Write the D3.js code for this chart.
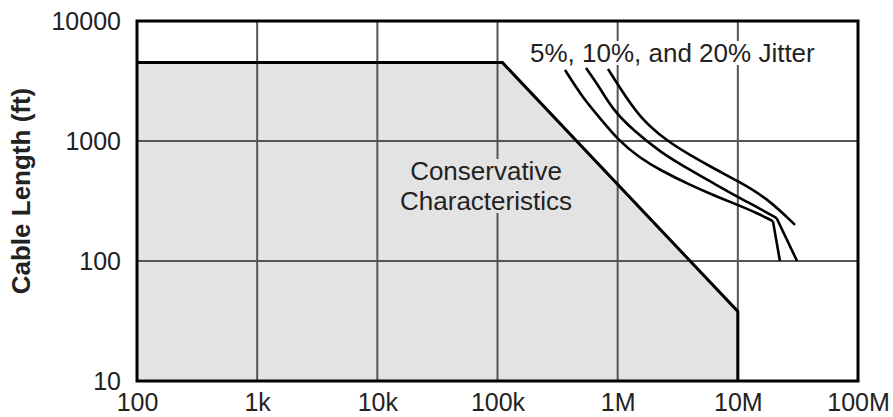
<!DOCTYPE html>
<html>
<head>
<meta charset="utf-8">
<script src="https://d3js.org/d3.v7.min.js"></script>
<style>
  body { margin: 0; background: #fff; }
  text { font-family: "Liberation Sans", Arial, sans-serif; fill: #222; }
</style>
</head>
<body>
<div id="chart"></div>
<script>
// axis ticks
var xTicks = [1e2, 1e3, 1e4, 1e5, 1e6, 1e7, 1e8];
var xTickLabels = ["100", "1k", "10k", "100k", "1M", "10M", "100M"];
var yTicks = [10, 100, 1000, 10000];
var yTickLabels = ["10", "100", "1000", "10000"];

// shaded "conservative" region outline (data rate, cable length)
var conservative = [[1e2, 4500], [1.1e5, 4500], [1e7, 38], [1e7, 10]];

// jitter curves, smooth part then straight drop
var jitter5 = [[3.65e5, 3900], [5.14e5, 2280], [7.12e5, 1555], [1.006e6, 1020], [1.53e6, 722],
               [2.25e6, 573], [4.0e6, 430], [6.21e6, 355], [1.0e7, 293], [1.44e7, 251], [1.96e7, 215]];
var jitter5Tail = [2.24e7, 100];
var jitter10 = [[5.45e5, 4060], [7.12e5, 2765], [9.14e5, 1813], [1.34e6, 1235], [2.25e6, 810],
                [4.0e6, 573], [6.21e6, 447], [1.0e7, 341], [1.44e7, 282], [2.1e7, 228]];
var jitter10Tail = [3.11e7, 100];
var jitter20 = [[8.31e5, 3980], [1.045e6, 2765], [1.53e6, 1555], [2.57e6, 1000], [4.0e6, 764],
                [6.21e6, 596], [1.0e7, 464], [1.75e7, 335], [2.99e7, 200]];

var W = 893, H = 417;
var margin = {left: 137, top: 21, right: 35, bottom: 36};
var width = W - margin.left - margin.right,
    height = H - margin.top - margin.bottom;

var svg = d3.select("#chart").append("svg")
    .attr("width", W).attr("height", H);
var g = svg.append("g")
    .attr("transform", "translate(" + margin.left + "," + margin.top + ")");

var x = d3.scaleLog().domain([1e2, 1e8]).range([0, width]);
var y = d3.scaleLog().domain([10, 10000]).range([height, 0]);

// shaded area
var area = conservative.concat([[1e2, 10]]);
g.append("path")
    .attr("d", d3.line().x(d => x(d[0])).y(d => y(d[1]))(area) + "Z")
    .attr("fill", "#e3e3e3");

// grid
g.selectAll(".vgrid").data(xTicks.slice(1, -1)).enter().append("line")
    .attr("x1", d => x(d)).attr("x2", d => x(d))
    .attr("y1", 0).attr("y2", height)
    .attr("stroke", "#555").attr("stroke-width", 2);
g.selectAll(".hgrid").data(yTicks.slice(1, -1)).enter().append("line")
    .attr("y1", d => y(d)).attr("y2", d => y(d))
    .attr("x1", 0).attr("x2", width)
    .attr("stroke", "#555").attr("stroke-width", 2);

var line = d3.line().x(d => x(d[0])).y(d => y(d[1]));
var smooth = d3.line().x(d => x(d[0])).y(d => y(d[1])).curve(d3.curveBasis);

// region boundary
g.append("path").attr("d", line(conservative))
    .attr("fill", "none").attr("stroke", "#000").attr("stroke-width", 3);

// jitter curves
[[jitter5, jitter5Tail], [jitter10, jitter10Tail], [jitter20, null]].forEach(function(c) {
    g.append("path").attr("d", smooth(c[0]))
        .attr("fill", "none").attr("stroke", "#000").attr("stroke-width", 2.6);
    if (c[1]) {
        g.append("path").attr("d", line([c[0][c[0].length - 1], c[1]]))
            .attr("fill", "none").attr("stroke", "#000").attr("stroke-width", 2.6);
    }
});

// frame
g.append("rect").attr("width", width).attr("height", height)
    .attr("fill", "none").attr("stroke", "#000").attr("stroke-width", 3);

// annotations with a background patch behind them
function label(lines, px, py, anchor, bg) {
    var t = g.append("text").attr("font-size", 26).attr("text-anchor", anchor);
    lines.forEach(function(s, i) {
        t.append("tspan").attr("x", px).attr("y", py + i * 30).text(s);
    });
    var b = t.node().getBBox();
    g.insert("rect", function() { return t.node(); })
        .attr("x", b.x - 2).attr("y", b.y + 3).attr("width", b.width + 4).attr("height", b.height - 6)
        .attr("fill", bg);
}
label(["5%, 10%, and 20% Jitter"], 530 - margin.left, 62 - margin.top, "start", "#fff");
label(["Conservative", "Characteristics"], 486 - margin.left, 180 - margin.top, "middle", "#e3e3e3");

// axes
var xAxis = d3.axisBottom(x).tickValues(xTicks)
    .tickFormat((d, i) => xTickLabels[i]).tickSize(0).tickPadding(12);
g.append("g").attr("transform", "translate(0," + height + ")").call(xAxis)
    .call(a => a.select(".domain").remove())
    .selectAll("text").attr("font-size", 25).attr("fill", "#222")
    .style("font-family", "Liberation Sans, Arial, sans-serif");

var yAxis = d3.axisLeft(y).tickValues(yTicks)
    .tickFormat((d, i) => yTickLabels[i]).tickSize(0).tickPadding(16);
g.append("g").call(yAxis)
    .call(a => a.select(".domain").remove())
    .selectAll("text").attr("font-size", 25).attr("fill", "#222")
    .style("font-family", "Liberation Sans, Arial, sans-serif");

svg.append("text")
    .attr("transform", "translate(30,191) rotate(-90)")
    .attr("text-anchor", "middle")
    .attr("font-size", 26).attr("font-weight", "bold")
    .text("Cable Length (ft)");
</script>
</body>
</html>
